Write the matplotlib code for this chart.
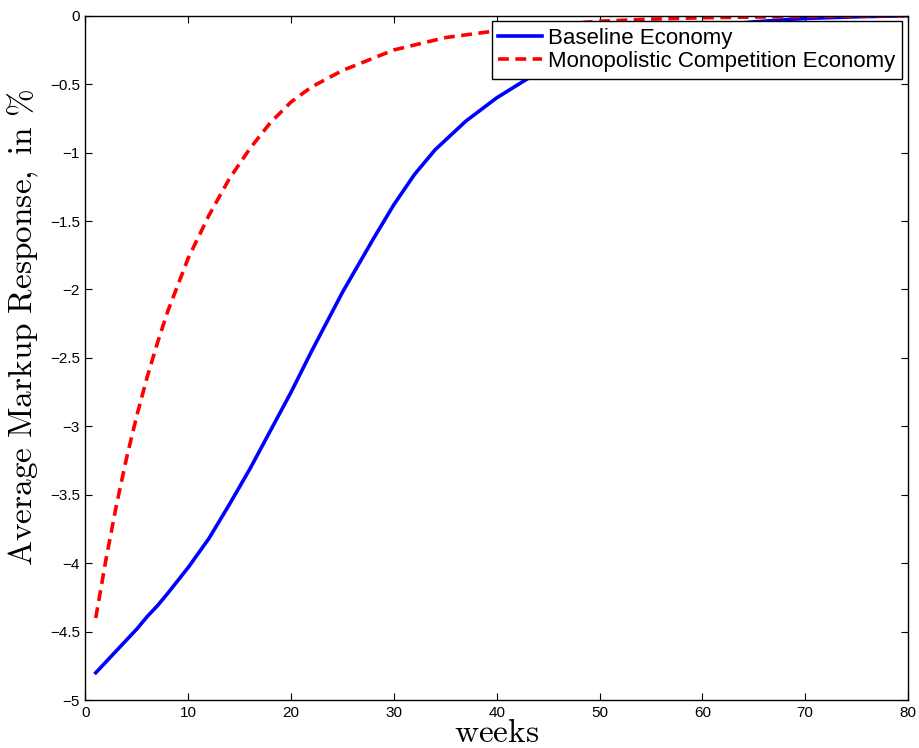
import matplotlib
matplotlib.use("Agg")
import matplotlib.pyplot as plt

plt.rcParams['mathtext.fontset'] = 'cm'
plt.rcParams['font.family'] = ['Liberation Sans', 'DejaVu Sans']

# values (weeks, % response)
weeks_base = [1, 2, 3, 4, 5, 6, 7, 8, 10, 12, 14, 16, 18, 20, 22, 25, 28, 30,
              32, 34, 37, 40, 43, 45, 50, 55, 60, 65, 70, 75, 80]
baseline = [-4.80, -4.72, -4.64, -4.56, -4.48, -4.39, -4.31, -4.22, -4.03, -3.82,
            -3.57, -3.31, -3.03, -2.75, -2.45, -2.02, -1.63, -1.38, -1.16, -0.98,
            -0.77, -0.60, -0.46, -0.38, -0.23, -0.14, -0.08, -0.045, -0.02, -0.008, 0.0]

weeks_mono = [1, 2, 3, 4, 5, 6, 7, 8, 10, 12, 14, 16, 18, 20, 22, 25, 28, 30,
              35, 40, 45, 50, 55, 60, 70, 80]
monopolistic = [-4.40, -3.97, -3.58, -3.23, -2.92, -2.64, -2.39, -2.16, -1.77, -1.46,
                -1.19, -0.97, -0.78, -0.63, -0.52, -0.40, -0.31, -0.25, -0.16, -0.11,
                -0.07, -0.04, -0.025, -0.015, -0.005, 0.0]

fig = plt.figure(figsize=(9.19, 7.48), dpi=100)
ax = fig.add_axes([0.093, 0.064, 0.895, 0.915])

ax.plot(weeks_base, baseline, color='#0000ff', lw=2.6, label='Baseline Economy')
ax.plot(weeks_mono, monopolistic, color='#ff0000', lw=2.6, dashes=(3.0, 1.8),
        label='Monopolistic Competition Economy')

ax.set_xlim(0, 80)
ax.set_ylim(-5, 0)
ax.set_xticks(range(0, 81, 10))
ax.set_yticks([-5, -4.5, -4, -3.5, -3, -2.5, -2, -1.5, -1, -0.5, 0])
ax.set_yticklabels(['−5', '−4.5', '−4', '−3.5', '−3', '−2.5', '−2', '−1.5', '−1', '−0.5', '0'])
ax.tick_params(direction='in', length=5, width=0.8, top=True, right=True, labelsize=11)
ax.tick_params(axis='y', pad=4)
ax.tick_params(axis='x', pad=4)
for s in ax.spines.values():
    s.set_linewidth(1.0)

ax.set_xlabel(r'$\mathrm{weeks}$', fontsize=24, labelpad=-1)
ax.set_ylabel(r'$\mathrm{Average\ Markup\ Response,\ in\ \%}$', fontsize=24)
ax.yaxis.set_label_coords(-0.054, 0.544)

leg = ax.legend(loc='upper right', fontsize=16, frameon=True, fancybox=False,
                edgecolor='black', framealpha=1, borderpad=0.3, labelspacing=0.1,
                handlelength=1.95, handletextpad=0.3, borderaxespad=0.25)
leg.get_frame().set_linewidth(1.0)

fig.savefig('out.png', dpi=100)
